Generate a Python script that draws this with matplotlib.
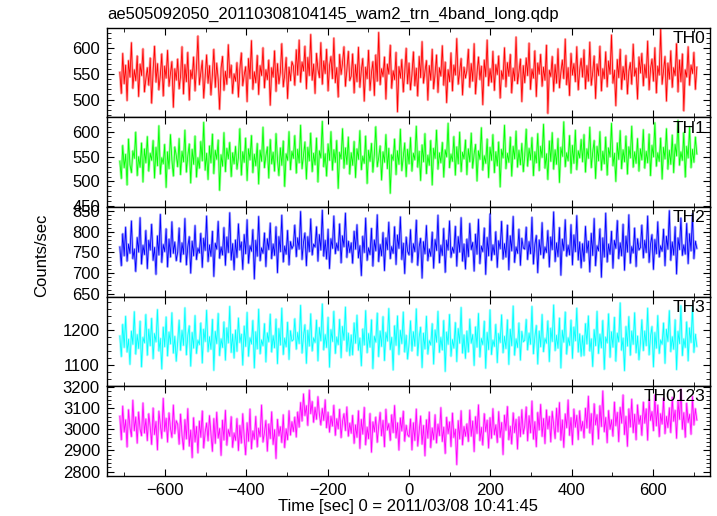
import numpy as np
import matplotlib
matplotlib.use("Agg")
import matplotlib.pyplot as plt
from matplotlib.ticker import MultipleLocator

plt.rcParams['font.family'] = ['Liberation Sans', 'DejaVu Sans']

title = "ae505092050_20110308104145_wam2_trn_4band_long.qdp"
xlabel = "Time [sec] 0 = 2011/03/08 10:41:45"
ylabel = "Counts/sec"
t_first, t_last = -711, 708

band_names = ["TH0", "TH1", "TH2", "TH3", "TH0123"]
band_colors = ["#ff0000", "#00ff00", "#0000ff", "#00ffff", "#ff00ff"]

# rates (one row ~ 142 s)
th0 = [553, 512, 590, 531, 567, 498, 576, 544, 611, 522, 558, 537, 585, 506, 569, 547, 599, 515, 540, 562, 528, 581, 493, 556, 604, 534, 570, 519, 548, 589, 507, 565, 542, 596, 526, 551, 574, 485, 560, 538,
       579, 521, 546, 603, 511, 568, 535, 592, 499, 557, 541, 583, 517, 563, 624, 529, 552, 576, 503, 545, 587, 532, 566, 509, 549, 598, 524, 571, 539, 481, 561, 584, 518, 555, 530, 607, 543, 567, 512, 550,
       536, 572, 505, 559, 591, 527, 548, 564, 496, 580, 541, 615, 520, 554, 533, 586, 510, 566, 547, 601, 523, 558, 539, 577, 489, 562, 544, 595, 516, 570, 531, 553, 609, 525, 548, 582, 502, 563, 537, 574,
       565, 528, 597, 548, 616, 534, 573, 556, 604, 521, 582, 547, 627, 538, 569, 512, 590, 559, 543, 611, 530, 575, 551, 598, 517, 566, 584, 541, 620, 533, 562, 505, 588, 549, 572, 603, 526, 558, 594, 537,
       546, 589, 513, 568, 535, 602, 524, 557, 580, 497, 563, 541, 596, 518, 552, 574, 508, 587, 536, 631, 529, 560, 545, 583, 501, 569, 550, 606, 522, 556, 539, 592, 476, 564, 542, 578, 515, 553, 600, 531,
       571, 519, 549, 593, 527, 561, 507, 584, 543, 613, 532, 555, 576, 499, 566, 538, 598, 521, 550, 587, 514, 562, 546, 605, 528, 573, 494, 558, 535, 591, 517, 567, 548, 619, 530, 554, 580, 509, 563, 542,
       557, 598, 524, 570, 536, 609, 511, 552, 583, 539, 565, 490, 577, 545, 616, 527, 560, 534, 594, 518, 568, 549, 585, 503, 556, 540, 601, 525, 572, 546, 588, 513, 561, 537, 622, 531, 554, 579, 496, 566,
       533, 581, 547, 610, 520, 559, 542, 595, 506, 571, 550, 588, 526, 563, 538, 606, 473, 557, 545, 584, 516, 568, 532, 599, 523, 553, 577, 541, 618, 529, 562, 508, 590, 548, 570, 535, 603, 519, 558, 580,
       544, 597, 521, 566, 536, 612, 528, 553, 585, 502, 569, 547, 604, 517, 560, 541, 593, 525, 575, 550, 626, 532, 557, 488, 578, 543, 598, 520, 564, 539, 586, 511, 555, 572, 530, 608, 546, 561, 501, 583,
       552, 590, 527, 568, 543, 614, 519, 560, 579, 536, 601, 513, 565, 548, 637, 530, 556, 584, 497, 571, 540, 595, 524, 562, 547, 609, 515, 577, 535, 589, 478, 558, 544, 603, 528, 567, 551, 592, 520, 563]

th1 = [541, 506, 573, 528, 555, 493, 586, 534, 518, 562, 547, 600, 512, 550, 529, 578, 499, 566, 538, 591, 521, 557, 543, 583, 507, 569, 532, 613, 515, 548, 536, 575, 488, 560, 526, 595, 544, 511, 570, 553,
       530, 587, 514, 561, 540, 604, 519, 552, 576, 497, 565, 535, 592, 509, 548, 527, 581, 542, 620, 523, 557, 504, 572, 538, 596, 516, 563, 545, 584, 482, 554, 531, 599, 520, 567, 546, 579, 510, 558, 536,
       571, 525, 549, 607, 513, 560, 539, 588, 502, 566, 544, 593, 518, 555, 532, 577, 495, 563, 541, 610, 528, 552, 570, 507, 585, 536, 559, 521, 597, 545, 512, 568, 533, 582, 490, 556, 543, 601, 524, 561,
       547, 593, 517, 565, 538, 614, 526, 553, 580, 505, 569, 542, 598, 520, 557, 534, 588, 499, 562, 548, 622, 530, 556, 511, 576, 543, 601, 523, 564, 539, 583, 486, 559, 546, 607, 527, 568, 535, 590, 515,
       558, 533, 581, 508, 566, 545, 603, 524, 551, 537, 592, 496, 563, 541, 577, 519, 555, 611, 530, 548, 572, 503, 560, 539, 595, 526, 567, 476, 554, 543, 586, 514, 562, 535, 606, 522, 549, 578, 510, 565,
       536, 589, 521, 557, 544, 612, 529, 561, 502, 574, 540, 597, 516, 553, 533, 583, 493, 567, 547, 604, 525, 558, 538, 579, 509, 564, 550, 618, 528, 555, 541, 591, 513, 570, 536, 600, 520, 559, 546, 584,
       514, 566, 540, 598, 527, 556, 575, 501, 562, 545, 609, 523, 552, 537, 586, 508, 569, 543, 595, 518, 560, 532, 580, 489, 565, 548, 614, 526, 557, 539, 590, 511, 571, 546, 602, 529, 563, 534, 577, 520,
       553, 606, 531, 567, 544, 589, 512, 560, 538, 597, 522, 571, 549, 616, 527, 556, 504, 582, 541, 599, 525, 564, 535, 587, 498, 569, 551, 621, 530, 558, 542, 593, 517, 573, 537, 604, 524, 562, 548, 585,
       540, 595, 519, 566, 547, 610, 528, 559, 583, 506, 571, 542, 601, 523, 561, 536, 590, 513, 568, 550, 618, 532, 557, 500, 578, 545, 603, 526, 564, 540, 592, 515, 570, 548, 612, 529, 560, 537, 587, 521,
       566, 544, 605, 527, 561, 538, 596, 512, 573, 550, 619, 531, 558, 541, 588, 505, 569, 546, 607, 525, 563, 535, 594, 518, 575, 552, 624, 533, 560, 543, 599, 509, 571, 548, 611, 528, 565, 539, 590, 556]

th2 = [763, 718, 795, 742, 811, 729, 770, 748, 826, 735, 758, 704, 786, 751, 834, 722, 767, 745, 803, 711, 779, 756, 818, 731, 762, 697, 790, 744, 842, 726, 769, 752, 807, 715, 782, 739, 824, 748, 775, 730,
       751, 809, 727, 773, 746, 832, 720, 764, 788, 700, 777, 742, 815, 733, 760, 749, 796, 714, 784, 755, 838, 728, 768, 741, 801, 692, 772, 758, 825, 736, 763, 744, 810, 719, 787, 750, 846, 732, 771, 708,
       780, 738, 819, 756, 775, 709, 793, 747, 829, 724, 766, 753, 805, 686, 779, 741, 837, 730, 761, 748, 797, 716, 783, 757, 821, 735, 770, 743, 812, 701, 788, 752, 840, 727, 765, 746, 803, 720, 776, 759,
       767, 816, 740, 785, 758, 849, 733, 774, 797, 718, 788, 752, 831, 744, 770, 763, 812, 729, 793, 756, 852, 741, 779, 734, 806, 711, 783, 760, 838, 747, 772, 755, 819, 725, 790, 764, 845, 738, 777, 750,
       773, 724, 801, 758, 817, 737, 766, 694, 789, 750, 833, 731, 761, 745, 808, 717, 780, 754, 841, 728, 769, 742, 798, 706, 785, 757, 823, 735, 764, 748, 812, 721, 792, 760, 836, 733, 772, 699, 787, 753,
       744, 805, 726, 771, 752, 828, 719, 764, 784, 688, 776, 747, 815, 730, 758, 741, 799, 712, 781, 755, 840, 725, 767, 743, 808, 702, 779, 756, 826, 738, 762, 749, 813, 717, 788, 751, 834, 729, 770, 710,
       782, 740, 820, 757, 774, 705, 794, 746, 830, 723, 765, 752, 809, 697, 786, 742, 843, 731, 768, 745, 800, 714, 778, 759, 825, 734, 771, 739, 816, 708, 790, 754, 837, 726, 763, 748, 806, 719, 784, 761,
       758, 811, 733, 776, 747, 835, 722, 769, 791, 701, 780, 745, 822, 736, 763, 750, 803, 715, 787, 757, 848, 728, 773, 740, 810, 695, 782, 755, 829, 741, 767, 744, 817, 720, 792, 752, 839, 732, 775, 713,
       771, 729, 813, 750, 777, 703, 796, 743, 832, 718, 766, 754, 807, 690, 785, 739, 845, 727, 770, 746, 801, 712, 779, 760, 827, 735, 773, 742, 818, 707, 789, 751, 841, 724, 764, 749, 809, 716, 783, 756,
       762, 816, 737, 779, 750, 838, 726, 770, 793, 709, 781, 747, 824, 739, 766, 753, 806, 718, 789, 758, 851, 731, 775, 744, 812, 698, 785, 757, 833, 743, 768, 746, 820, 723, 795, 754, 843, 735, 777, 760]

th3 = [1182, 1124, 1215, 1150, 1238, 1137, 1173, 1102, 1196, 1159, 1251, 1131, 1186, 1147, 1224, 1095, 1178, 1163, 1243, 1128, 1201, 1155, 1232, 1118, 1189, 1166, 1257, 1140, 1175, 1089, 1207, 1152, 1236, 1126, 1193, 1160, 1248, 1134, 1181, 1111,
       1165, 1227, 1142, 1198, 1156, 1262, 1129, 1184, 1211, 1097, 1192, 1148, 1240, 1133, 1170, 1158, 1219, 1106, 1201, 1167, 1255, 1138, 1180, 1145, 1229, 1085, 1195, 1161, 1246, 1127, 1174, 1150, 1222, 1114, 1205, 1163, 1266, 1136, 1187, 1120,
       1199, 1139, 1233, 1164, 1187, 1100, 1210, 1153, 1249, 1125, 1177, 1160, 1226, 1092, 1194, 1146, 1258, 1132, 1171, 1155, 1217, 1109, 1191, 1166, 1244, 1137, 1183, 1149, 1230, 1104, 1203, 1157, 1261, 1130, 1176, 1152, 1221, 1116, 1197, 1168,
       1172, 1231, 1145, 1192, 1161, 1269, 1134, 1182, 1214, 1105, 1198, 1154, 1245, 1140, 1177, 1164, 1227, 1112, 1206, 1169, 1273, 1143, 1186, 1150, 1235, 1094, 1200, 1167, 1252, 1133, 1179, 1158, 1229, 1121, 1209, 1171, 1264, 1139, 1190, 1127,
       1185, 1129, 1219, 1162, 1241, 1142, 1176, 1098, 1202, 1157, 1254, 1135, 1189, 1151, 1228, 1090, 1181, 1165, 1247, 1124, 1196, 1153, 1237, 1113, 1192, 1168, 1260, 1144, 1178, 1086, 1211, 1156, 1239, 1130, 1198, 1161, 1250, 1137, 1184, 1117,
       1160, 1225, 1140, 1194, 1154, 1259, 1127, 1180, 1207, 1093, 1190, 1146, 1238, 1131, 1169, 1157, 1217, 1103, 1199, 1165, 1252, 1136, 1178, 1143, 1226, 1082, 1193, 1159, 1243, 1125, 1172, 1148, 1220, 1110, 1203, 1162, 1263, 1134, 1185, 1119,
       1196, 1137, 1230, 1162, 1186, 1099, 1208, 1151, 1246, 1123, 1175, 1158, 1224, 1091, 1192, 1144, 1256, 1130, 1170, 1153, 1215, 1107, 1189, 1164, 1242, 1135, 1181, 1147, 1228, 1102, 1201, 1155, 1267, 1128, 1174, 1150, 1219, 1114, 1195, 1166,
       1170, 1229, 1143, 1190, 1159, 1266, 1132, 1180, 1212, 1103, 1196, 1152, 1243, 1138, 1175, 1162, 1225, 1110, 1204, 1167, 1270, 1141, 1184, 1148, 1233, 1092, 1198, 1165, 1250, 1131, 1177, 1156, 1227, 1119, 1207, 1169, 1261, 1137, 1188, 1125,
       1183, 1127, 1217, 1160, 1239, 1140, 1174, 1096, 1200, 1155, 1252, 1133, 1187, 1149, 1226, 1088, 1179, 1163, 1245, 1122, 1194, 1151, 1235, 1111, 1190, 1166, 1276, 1142, 1176, 1084, 1209, 1154, 1237, 1128, 1196, 1159, 1248, 1135, 1182, 1115,
       1162, 1228, 1141, 1196, 1155, 1261, 1129, 1182, 1209, 1095, 1192, 1148, 1240, 1133, 1171, 1159, 1219, 1105, 1201, 1167, 1254, 1138, 1180, 1145, 1228, 1087, 1195, 1161, 1268, 1127, 1174, 1150, 1222, 1112, 1205, 1164, 1265, 1136, 1187, 1153]

th0123 = [3062, 2951, 3110, 2988, 3045, 2917, 3093, 3009, 2966, 3138, 2994, 3058, 2935, 3082, 3001, 2970, 3125, 2983, 3049, 2947, 3074, 3012, 2929, 3101, 2976, 3037, 2903, 3086, 3020, 2958, 3147, 2991, 3052, 2940, 3078, 3006, 2962, 3115, 2980, 3041,
          3024, 2930, 3072, 2972, 2905, 3046, 2955, 3098, 2921, 2996, 2866, 3055, 2941, 3013, 2889, 3039, 2963, 3087, 2912, 2987, 3030, 2946, 3065, 2978, 2896, 3051, 2934, 3081, 2959, 3004, 2877, 3043, 2950, 3090, 2925, 2999, 2968, 3060, 2915, 2982,
          2948, 3051, 2900, 3018, 2935, 3074, 2960, 2880, 3031, 2944, 3096, 2908, 2992, 2953, 3061, 2917, 3005, 2966, 3115, 2940, 2985, 3042, 2897, 3025, 2957, 3083, 2929, 2998, 2862, 3047, 2970, 3012, 2938, 3069, 2914, 3002, 2951, 3088, 2973, 3036,
          2990, 3058, 2964, 3082, 3011, 3127, 3040, 3168, 3066, 3112, 3019, 3186, 3075, 3132, 3034, 3104, 3048, 3155, 3072, 3021, 3099, 3043, 3140, 3008, 3081, 2987, 3062, 3016, 3114, 2972, 3050, 3003, 3095, 2961, 3037, 3074, 2995, 3106, 2968, 3029,
          2982, 3066, 2934, 3021, 2963, 3088, 2910, 3047, 2978, 3104, 2927, 3010, 2956, 3075, 2892, 3035, 2989, 3058, 2939, 3016, 3080, 2970, 3042, 2918, 3095, 2997, 3027, 2948, 3069, 2985, 3113, 2960, 3031, 2902, 3054, 2993, 3086, 2944, 3019, 2975,
          2965, 3049, 2903, 3031, 2948, 3096, 2921, 2992, 3063, 2930, 3018, 2875, 3045, 2959, 3082, 2914, 3006, 2952, 3069, 2936, 3024, 2971, 3103, 2943, 3010, 2886, 3057, 2980, 3035, 2919, 3077, 2962, 3000, 2833, 3041, 2955, 3088, 2927, 3013, 2968,
          3026, 2943, 3091, 2968, 3039, 2895, 3060, 2981, 3116, 2947, 3009, 2926, 3074, 2990, 3043, 2912, 3055, 2958, 3098, 2975, 3021, 2938, 3084, 2963, 3032, 2881, 3067, 2996, 3108, 2951, 3014, 2931, 3078, 2985, 3047, 2907, 3059, 2966, 3093, 2979,
          3016, 3106, 2946, 3064, 2984, 3134, 2954, 3036, 2918, 3080, 2998, 3118, 2967, 3051, 2933, 3092, 3003, 3061, 2941, 3085, 3022, 2957, 3100, 2989, 3127, 2949, 3044, 2915, 3073, 3008, 3139, 2972, 3055, 2928, 3096, 3011, 3066, 2952, 3088, 2994,
          3037, 2960, 3100, 3007, 3157, 2983, 3074, 2928, 3121, 3022, 3069, 2955, 3112, 3014, 3182, 2989, 3056, 2937, 3089, 3001, 3045, 2968, 3129, 3018, 3080, 2942, 3104, 3030, 3163, 2976, 3061, 2920, 3097, 3012, 3143, 2985, 3071, 2951, 3116, 3026,
          3064, 2972, 3129, 3030, 3097, 2949, 3141, 3043, 3084, 2994, 3163, 3017, 3115, 2966, 3074, 3026, 3148, 2980, 3061, 3009, 3102, 2985, 3152, 3039, 3090, 2958, 3135, 3048, 3190, 3001, 3079, 2963, 3124, 3033, 3071, 2977, 3156, 3021, 3098, 3045]

series = [th0, th1, th2, th3, th0123]
y_limits = [(465, 640), (448, 630), (643, 860), (1040, 1294), (2780, 3205)]
y_major = [50, 50, 50, 100, 100]
y_minor = [10, 10, 10, 20, 20]

fig, axes = plt.subplots(5, 1, sharex=True, figsize=(7.17, 5.16), dpi=100)
fig.subplots_adjust(left=0.149, right=0.990, top=0.946, bottom=0.078, hspace=0)

for ax, vals, name, col, ylim, maj, mnr in zip(axes, series, band_names, band_colors,
                                               y_limits, y_major, y_minor):
    t = np.linspace(t_first, t_last, len(vals))
    ax.plot(t, vals, color=col, lw=1.8, alpha=0.35)
    ax.plot(t, vals, color=col, lw=0.6)
    ax.set_ylim(*ylim)
    ax.set_xlim(-743, 740)
    ax.yaxis.set_major_locator(MultipleLocator(maj))
    ax.yaxis.set_minor_locator(MultipleLocator(mnr))
    ax.xaxis.set_major_locator(MultipleLocator(200))
    ax.xaxis.set_minor_locator(MultipleLocator(100))
    ax.tick_params(which='both', direction='in', top=True, right=True, labelsize=12, pad=5)
    ax.tick_params(which='major', length=5, width=0.8)
    ax.tick_params(which='minor', length=3, width=0.6)
    for s in ax.spines.values():
        s.set_linewidth(1.0)
    ax.text(0.992, 0.965, name, transform=ax.transAxes, ha='right', va='top', fontsize=12.5)

axes[-1].set_xlabel(xlabel, fontsize=12, labelpad=1)
fig.text(0.149, 0.972, title, ha='left', va='center', fontsize=12)
fig.text(0.058, 0.505, ylabel, rotation=90, ha='center', va='center', fontsize=12)

fig.savefig("out.png", dpi=100)
